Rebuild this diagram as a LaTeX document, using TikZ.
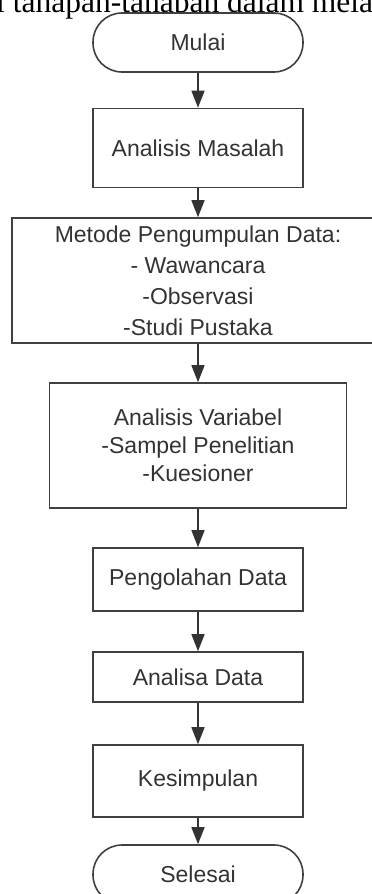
\documentclass[tikz,border=0pt]{standalone}
\usepackage{fontspec}
\setmainfont{Liberation Sans}
\newfontfamily\judulfont{Liberation Serif}
\usetikzlibrary{arrows.meta}

\begin{document}
\begin{tikzpicture}[x=1pt, y=-1pt,
        proses/.style={draw=black!75, line width=1.6pt, fill=white, text=black!80,
            align=center, inner sep=0pt, font=\fontsize{23}{29}\selectfont},
        terminal/.style={proses, rounded corners=29pt, minimum width=210pt, minimum height=59pt},
        panah/.style={line width=1.5pt, draw=black!80, -{Triangle[width=13pt,length=17pt]}}]
        \useasboundingbox (0,0) rectangle (372,894);
        \node [anchor=base west, inner sep=0pt, font=\judulfont\fontsize{31.5}{32}\selectfont] (judul) at (-4,12.5) {i tahapan-tahapan dalam mela};
        \node [terminal] (mulai) at (198,42.5) {Mulai};
        \node [proses, minimum width=210pt, minimum height=79pt] (masalah) at (198,148) {Analisis Masalah};
        \node [proses, minimum width=372pt, minimum height=125pt, font=\fontsize{23}{31}\selectfont] (metode) at (198,280.5) {Metode Pengumpulan Data:\\- Wawancara\\-Observasi\\-Studi Pustaka};
        \node [proses, minimum width=297pt, minimum height=125pt, font=\fontsize{23}{28}\selectfont] (variabel) at (198,445.5) {Analisis Variabel\\-Sampel Penelitian\\-Kuesioner};
        \node [proses, minimum width=210pt, minimum height=63pt] (olah) at (198,579.5) {Pengolahan Data};
        \node [proses, minimum width=210pt, minimum height=50pt] (analisa) at (198,677) {Analisa Data};
        \node [proses, minimum width=210pt, minimum height=72pt] (simpul) at (198,781) {Kesimpulan};
        \node [terminal] (selesai) at (198,874.5) {Selesai};
        \draw [panah] (mulai) -- (masalah);
        \draw [panah] (masalah) -- (metode);
        \draw [panah] (metode) -- (variabel);
        \draw [panah] (variabel) -- (olah);
        \draw [panah] (olah) -- (analisa);
        \draw [panah] (analisa) -- (simpul);
        \draw [panah] (simpul) -- (selesai);
    \end{tikzpicture}
\end{document}
